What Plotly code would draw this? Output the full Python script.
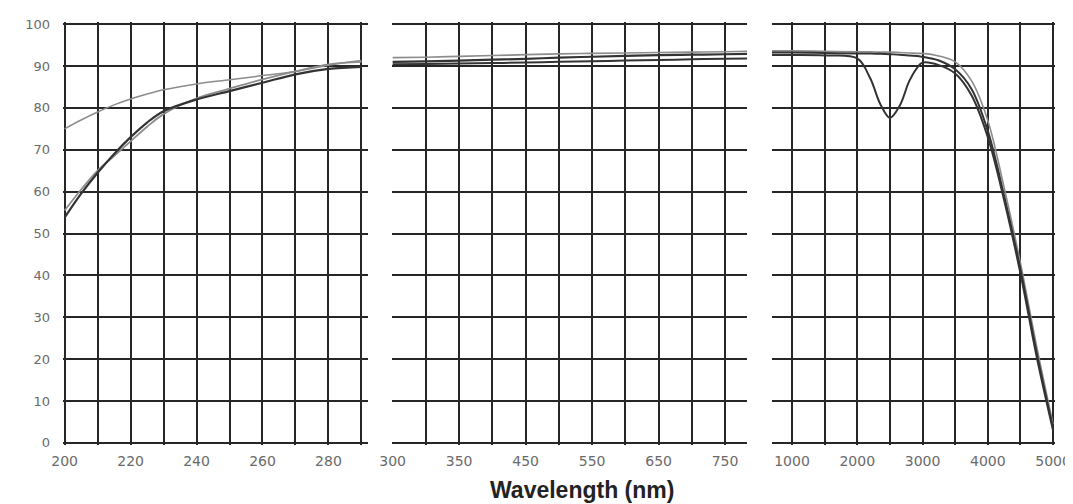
import plotly.graph_objects as go

# ---------------- data ----------------
# Panel 1 (UV, nm)
p1_x = [200, 205, 210, 215, 220, 225, 230, 240, 250, 260, 270, 280, 290]
p1_upper = [75, 77.1, 79, 80.7, 82.1, 83.3, 84.3, 85.7, 86.7, 87.7, 88.7, 90.2, 91.3]
p1_dark = [53.8, 59.5, 64.5, 69, 73, 76.5, 79.2, 82, 84, 86, 88, 89.3, 89.8]
p1_gray = [55.5, 60.5, 65, 68.5, 72, 75.5, 78.5, 82.3, 84.6, 86.8, 88.7, 90.4, 91]

# Panel 2 (visible, nm)
p2_x = [250, 300, 350, 400, 450, 500, 550, 600, 650, 700, 750, 783]
p2_upper = [92, 92.1, 92.3, 92.5, 92.7, 92.9, 93, 93.1, 93.2, 93.3, 93.4, 93.5]
p2_mid = [91, 91.1, 91.3, 91.5, 91.7, 92, 92.2, 92.4, 92.6, 92.7, 92.8, 92.9]
p2_low = [90.4, 90.5, 90.6, 90.7, 90.8, 91, 91.1, 91.3, 91.4, 91.6, 91.7, 91.8]

# Panel 3 (IR, nm)
p3_x = [693, 1000, 1500, 2000, 2200, 2350, 2500, 2650, 2800, 2950, 3000,
        3250, 3500, 3750, 4000, 4250, 4500, 4750, 5000]
p3_upper = [93.6, 93.6, 93.5, 93.4, 93.4, 93.3, 93.3, 93.2, 93.1, 93, 93,
            92.4, 91, 86.5, 77, 61, 43, 23, 4.5]
p3_mid = [93.2, 93.2, 93.1, 93, 93, 92.9, 92.8, 92.7, 92.5, 92.3, 92.2,
          91.3, 89.2, 84.5, 74.5, 59, 41.5, 21.5, 3.5]
p3_dip = [92.6, 92.6, 92.5, 91.8, 87, 81, 77.6, 80.5, 86.5, 90.2, 90.8,
          90.2, 88.2, 83, 73, 58, 40.5, 20.5, 3]

# axis ticks
y_ticks = [0, 10, 20, 30, 40, 50, 60, 70, 80, 90, 100]
p1_ticks = [200, 210, 220, 230, 240, 250, 260, 270, 280, 290]
p1_text = ["200", " ", "220", " ", "240", " ", "260", " ", "280", " "]
p2_ticks = [250, 300, 350, 400, 450, 500, 550, 600, 650, 700, 750]
p2_text = ["300", " ", "350", " ", "450", " ", "550", " ", "650", " ", "750"]
p3_ticks = [1000, 1500, 2000, 2500, 3000, 3500, 4000, 4500, 5000]
p3_text = ["1000", " ", "2000", " ", "3000", " ", "4000", " ", "5000"]

# ---------------- figure ----------------
# the page body adds an 8px margin, so the figure is 1065x496 and offset by 8px
OFF = 8
W, H = 1073 - OFF, 504 - OFF
DARK = "#333333"
GRAY = "#8c8c8c"


def dom(a, b):
    return [(a - OFF) / W, (b - OFF) / W]


fig = go.Figure()


def add(x, y, axis, color, width):
    fig.add_trace(go.Scatter(x=x, y=y, mode="lines", xaxis=axis, yaxis="y",
                             line=dict(color=color, width=width, shape="spline", smoothing=1.0),
                             showlegend=False, hoverinfo="skip"))


add(p1_x, p1_upper, "x", GRAY, 1.5)
add(p1_x, p1_gray, "x", GRAY, 1.8)
add(p1_x, p1_dark, "x", DARK, 2.2)

add(p2_x, p2_upper, "x2", GRAY, 1.6)
add(p2_x, p2_mid, "x2", DARK, 2.2)
add(p2_x, p2_low, "x2", DARK, 2.0)

add(p3_x, p3_upper, "x3", GRAY, 1.6)
add(p3_x, p3_mid, "x3", DARK, 2.0)
add(p3_x, p3_dip, "x3", DARK, 2.0)

grid = "#262626"
ytickfont = dict(family="DejaVu Sans", size=13, color="#6a6a6a")
xtickfont = dict(family="DejaVu Sans", size=14, color="#6a6a6a")


def xaxis(d, rng, tv, tt):
    return dict(domain=d, range=rng, tickmode="array", tickvals=tv, ticktext=tt,
                showgrid=True, gridcolor=grid, gridwidth=2, zeroline=False,
                showline=False, ticks="", tickfont=xtickfont, ticklabelstandoff=6,
                anchor="y", fixedrange=True, automargin=False)


top_px, bot_px = 22 - OFF, 445 - OFF
fig.update_layout(
    width=W, height=H,
    margin=dict(l=0, r=0, t=top_px, b=H - bot_px, autoexpand=False),
    paper_bgcolor="white", plot_bgcolor="white",
    xaxis=xaxis(dom(63, 368), [199.5, 292], p1_ticks, p1_text),
    xaxis2=xaxis(dom(392, 747), [249, 783], p2_ticks, p2_text),
    xaxis3=xaxis(dom(772, 1055), [693, 5030], p3_ticks, p3_text),
    yaxis=dict(range=[-0.5, 100.5], tickmode="array", tickvals=y_ticks,
               showgrid=True, gridcolor=grid, gridwidth=2, zeroline=False,
               showline=False, ticks="", tickfont=ytickfont, ticklabelstandoff=12,
               fixedrange=True, automargin=False),
    annotations=[dict(text="<b>Wavelength (nm)</b>", xref="paper", yref="paper",
                      x=(582 - OFF) / W, y=(bot_px - (490 - OFF)) / (bot_px - top_px),
                      xanchor="center", yanchor="middle", showarrow=False,
                      font=dict(family="Liberation Sans", size=23, color="#222222"))],
)

fig.write_html("out.html")
